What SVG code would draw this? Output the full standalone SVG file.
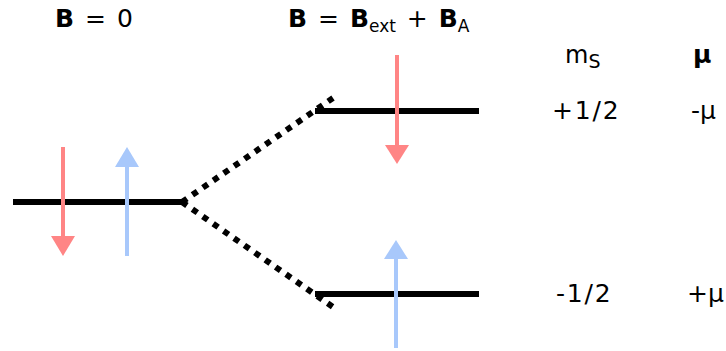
<svg xmlns="http://www.w3.org/2000/svg" width="726" height="351" viewBox="0 0 726 351">
<style>
.lvl{stroke:#000;stroke-width:6;fill:none}
.dot{stroke:#000;stroke-width:6;fill:none;stroke-dasharray:6 6.67}
.red{stroke:#ff8585;stroke-width:4;fill:none}
.blue{stroke:#a8c8fb;stroke-width:4;fill:none}
.redh{fill:#ff8585}
.blueh{fill:#a8c8fb}
text{font-family:"DejaVu Sans","Verdana",sans-serif;font-size:25px;fill:#000}
.b{font-weight:bold}
.sub{font-size:17px}
.num{letter-spacing:1.8px}
.ttl{word-spacing:3px}
</style>
<g id="connectors">
<path class="dot" d="M182,202 L333,98"/>
<path class="dot" d="M182,202 L333,307"/>
</g>
<g id="level-zero">
<path class="lvl" d="M13,202 H182"/>
</g>
<g id="level-upper">
<path class="lvl" d="M315,111 H479"/>
</g>
<g id="level-lower">
<path class="lvl" d="M315,294 H479"/>
</g>
<g id="spin-down-left">
<path class="red" d="M63,147 V238"/>
<polygon class="redh" points="51,236 75,236 63,256"/>
</g>
<g id="spin-up-left">
<path class="blue" d="M127,256 V165"/>
<polygon class="blueh" points="115,167 139,167 127,147"/>
</g>
<g id="spin-down-right">
<path class="red" d="M397,55 V147"/>
<polygon class="redh" points="385,145 409,145 397,164"/>
</g>
<g id="spin-up-right">
<path class="blue" d="M396,348 V257"/>
<polygon class="blueh" points="384,259 408,259 396,240"/>
</g>
<g id="labels">
<text x="55" y="27" class="ttl"><tspan class="b">B</tspan> = 0</text>
<text x="288" y="27" class="ttl"><tspan class="b">B</tspan> = <tspan class="b">B</tspan><tspan class="sub" dy="5">ext</tspan><tspan dy="-5"> + </tspan><tspan class="b">B</tspan><tspan class="sub" dy="5">A</tspan></text>
<text x="565" y="63" style="font-size:24px">m<tspan dy="5" style="font-size:19px">S</tspan></text>
<text x="693" y="63" class="b">μ</text>
<text x="552" y="119" class="num">+1/2</text>
<text x="691" y="119">-μ</text>
<text x="556" y="302" class="num">-1/2</text>
<text x="687" y="302">+μ</text>
</g>
</svg>
